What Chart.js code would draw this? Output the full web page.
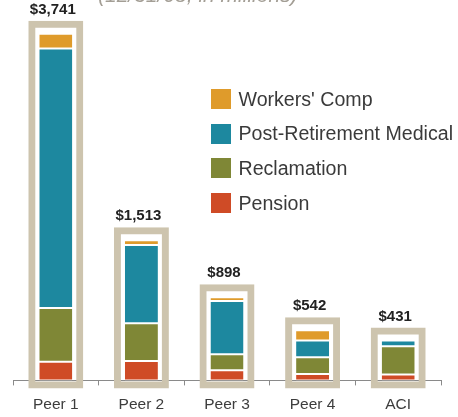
<!DOCTYPE html>
<html>
<head>
<meta charset="utf-8">
<script src="https://cdn.jsdelivr.net/npm/chart.js@4/dist/chart.umd.min.js"></script>
<style>
  body { margin: 0; background: #fff; }
  #wrap { position: relative; width: 458px; height: 417px; overflow: hidden; }
  #subtitle {
    position: absolute; left: 98px; top: -16px;
    font: italic 21px "Liberation Sans", Arial, sans-serif; line-height: 21px;
    color: #a39e95; white-space: nowrap;
  }
  #legend { position: absolute; left: 211px; top: 89px; }
  .item { display: flex; align-items: center; height: 20px; margin-bottom: 14.7px; }
  .swatch { width: 20px; height: 20px; margin-right: 7.5px; }
  .item span { font: 19.6px "Liberation Sans", Arial, sans-serif; color: #3a3a3a; white-space: nowrap; }
</style>
</head>
<body>
<div id="wrap">
  <canvas id="chart" width="458" height="424"></canvas>
  <div id="subtitle">(12/31/08, in millions)</div>
  <div id="legend"></div>
</div>
<script>
let categories = ["Peer 1", "Peer 2", "Peer 3", "Peer 4", "ACI"]
let totals = [3741, 1513, 898, 542, 431]
let pension = [201, 210, 109, 69, 63]
let reclamation = [581, 408, 174, 182, 306]
let post_retirement = [2801, 843, 573, 179, 62]
let workers_comp = [158, 52, 42, 112, 0]
let series_names = ["Workers' Comp", "Post-Retirement Medical", "Reclamation", "Pension"]

let colors = ["#df9b2b", "#1d889f", "#7f8736", "#cf4b26"]
let frame_color = "#cdc4ae"

// legend, top to bottom
for (let i = 0; i < series_names.length; i++) {
    let item = document.createElement("div")
    item.setAttribute("class", "item")
    let swatch = document.createElement("div")
    swatch.setAttribute("class", "swatch")
    swatch.style.background = colors[i]
    let label = document.createElement("span")
    label.innerText = series_names[i]
    item.appendChild(swatch)
    item.appendChild(label)
    document.getElementById("legend").appendChild(item)
}

function segment(name, data, color) {
    return {
        label: name,
        data: data,
        backgroundColor: color,
        borderColor: "#fff",
        borderWidth: {top: 1, bottom: 1, left: 0, right: 0},
        borderSkipped: false,
        stack: "parts",
        grouped: false,
        categoryPercentage: 1,
        barPercentage: 33 / 85.6
    }
}

// beige box round each stack, a little taller than the total
let frame = {
    label: "frame",
    data: totals.map((t) => [-87, t + 140]),
    backgroundColor: "transparent",
    borderColor: frame_color,
    borderWidth: 7,
    borderSkipped: false,
    stack: "frame",
    grouped: false,
    clip: false,
    categoryPercentage: 1,
    barPercentage: 55 / 85.6
}

let totalLabels = {
    id: "totalLabels",
    afterDatasetsDraw(chart) {
        let ctx = chart.ctx
        let meta = chart.getDatasetMeta(0)
        ctx.save()
        ctx.font = "bold 15px 'Liberation Sans', Arial, sans-serif"
        ctx.fillStyle = "#222"
        ctx.textAlign = "center"
        ctx.textBaseline = "middle"
        meta.data.forEach((bar, i) => {
            ctx.fillText("$" + totals[i].toLocaleString("en-US"), bar.x - 3, bar.y - 11)
        })
        ctx.restore()
    }
}

let chart = new Chart(document.getElementById("chart").getContext("2d"), {
    type: "bar",
    data: {
        labels: categories,
        datasets: [
            frame,
            segment(series_names[3], pension, colors[3]),
            segment(series_names[2], reclamation, colors[2]),
            segment(series_names[1], post_retirement, colors[1]),
            segment(series_names[0], workers_comp, colors[0])
        ]
    },
    options: {
        responsive: false,
        animation: false,
        layout: {
            padding: {left: 13, right: 17, top: 20, bottom: 0}
        },
        plugins: {
            legend: {display: false},
            tooltip: {enabled: false}
        },
        scales: {
            x: {
                stacked: true,
                grid: {
                    offset: true,
                    drawOnChartArea: false,
                    drawTicks: true,
                    tickLength: 5,
                    color: "#8a8a8a"
                },
                border: {display: true, color: "#8a8a8a", width: 1},
                ticks: {
                    color: "#3d3d3d",
                    padding: 10,
                    font: {family: "'Liberation Sans', Arial, sans-serif", size: 15.5}
                }
            },
            y: {
                stacked: true,
                display: false,
                min: 0,
                max: 3890
            }
        }
    },
    plugins: [totalLabels]
})
</script>
</body>
</html>
